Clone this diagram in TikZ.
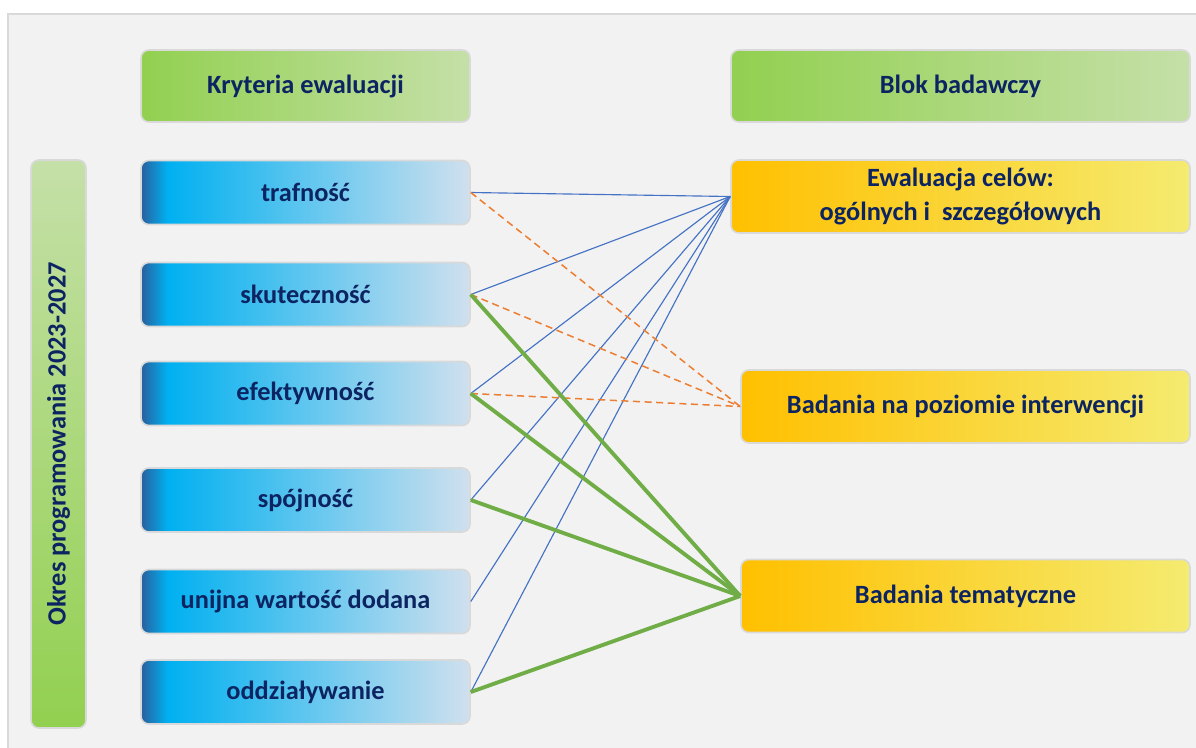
\documentclass[tikz,border=0pt]{standalone}
\usepackage{fontspec}
\setmainfont{Carlito}
\usepackage{xcolor}
\usetikzlibrary{positioning}

\definecolor{navytxt}{HTML}{0C2461}
\definecolor{framegray}{HTML}{D9D9D9}
\definecolor{pagegray}{HTML}{F2F2F2}
\definecolor{greenD}{HTML}{92D050}
\definecolor{greenL}{HTML}{C5E0A8}
\definecolor{critdark}{HTML}{2A5F9E}
\definecolor{critcyan}{HTML}{00B0F0}
\definecolor{critlight}{HTML}{D0E0EE}
\definecolor{yelD}{HTML}{FFC000}
\definecolor{yelL}{HTML}{F5EB70}
\definecolor{linkblue}{HTML}{4472C4}
\definecolor{linkorange}{HTML}{ED7D31}
\definecolor{linkgreen}{HTML}{70AD47}

\pgfdeclarehorizontalshading{critfill}{100bp}{color(0bp)=(critdark); color(25bp)=(critdark);
  color(29bp)=(critcyan); color(75bp)=(critlight); color(100bp)=(critlight)}

\begin{document}
\begin{tikzpicture}[font=\fontsize{15}{19.5}\selectfont\bfseries,
  box/.style={draw=framegray, line width=0.9pt, rounded corners=4.5pt, inner sep=0pt,
    align=center, text=navytxt},
  hdr/.style={box, left color=greenD, right color=greenL, minimum width=#1, minimum height=1.44cm},
  crit/.style={box, shading=critfill, minimum width=6.58cm, minimum height=1.28cm},
  blok/.style={box, left color=yelD, right color=yelL, minimum width=#1, minimum height=1.46cm},
  okr/.style={box, top color=greenL, bottom color=greenD,
    minimum width=1.10cm, minimum height=11.36cm},
  cel/.style={linkblue, line width=0.65pt},
  interw/.style={linkorange, line width=0.85pt, dash pattern=on 4pt off 2.6pt},
  temat/.style={linkgreen, line width=2.2pt},
]
\useasboundingbox (0,0) rectangle (23.92,-14.94);
\fill[white] (0,0) rectangle (23.92,-14.94);
\draw[framegray, fill=pagegray, line width=1.1pt] (0.16,-0.28) rectangle (24.6,-15.6);

% headers
\node[hdr=6.58cm] (kryt) at (6.11,-1.72) {Kryteria ewaluacji};
\node[hdr=9.18cm] (blk) at (19.21,-1.72) {Blok badawczy};

% period bar
\node[okr] (okres) at (1.17,-8.88) {\rotatebox{90}{Okres programowania 2023-2027}};

% criteria
\node[crit] (traf) at (6.11,-3.85) {trafność};
\node[crit] (skut) at (6.11,-5.89) {skuteczność};
\node[crit] (efek) at (6.11,-7.87) {efektywność};
\node[crit] (spoj) at (6.11,-10.00) {spójność};
\node[crit] (unij) at (6.11,-12.03) {unijna wartość dodana};
\node[crit] (oddz) at (6.11,-13.84) {oddziaływanie};

% research blocks
\node[blok=9.18cm] (ewal) at (19.21,-3.93) {Ewaluacja celów:\\ogólnych i\ \ szczegółowych};
\node[blok=8.98cm] (bint) at (19.31,-8.13) {Badania na poziomie interwencji};
\node[blok=8.98cm] (btem) at (19.31,-11.92) {Badania tematyczne};

% links
\foreach \s in {traf,skut,efek,spoj,unij,oddz}
  \draw[cel] (\s.east) -- (ewal.west);
\foreach \s in {traf,skut,efek}
  \draw[interw] (\s.east) -- (bint.west);
\foreach \s in {skut,efek,spoj,oddz}
  \draw[temat] (\s.east) -- (btem.west);
\end{tikzpicture}
\end{document}
